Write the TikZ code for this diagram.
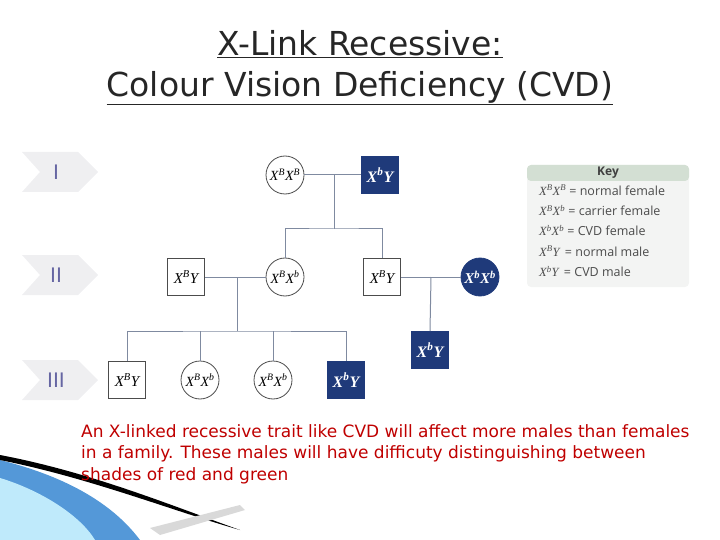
\documentclass[tikz,border=0pt]{standalone}
\usepackage{fontspec}
\setmainfont{DejaVu Sans}
\newfontfamily\titlefont{DejaVu Sans}
\newfontfamily\keyfont{Open Sans}
\newfontfamily\serf{Liberation Serif}
\definecolor{navy}{HTML}{1F3A7A}
\definecolor{lncol}{HTML}{7F8AA0}
\begin{document}
\begin{tikzpicture}[x=1pt,y=-1pt,
  sq/.style={draw=black!70,line width=0.8pt,minimum size=37pt,inner sep=0,fill=white,font=\serf\fontsize{15}{15}\selectfont\itshape},
  sqf/.style={sq,fill=navy,draw=navy,text=white,font=\serf\fontsize{16}{16}\selectfont\bfseries\itshape},
  ci/.style={circle,draw=black!70,line width=0.8pt,minimum size=38pt,inner sep=0,fill=white,font=\serf\fontsize{14}{14}\selectfont\itshape},
  cif/.style={ci,fill=navy,draw=navy,text=white,font=\serf\fontsize{15}{15}\selectfont\bfseries\itshape},
  ln/.style={draw=lncol,line width=1pt},
  chev/.style={fill=blue!6!gray!12,draw=none},
  gen/.style={font=\fontsize{20}{20}\selectfont,text=blue!40!black!60}]
\useasboundingbox (0,0) rectangle (720,540);
% swoosh
\fill[cyan!60!blue!70] (0,460) .. controls (60,475) and (110,500) .. (140,540) -- (0,540) -- cycle;
\fill[cyan!25] (0,478) .. controls (40,490) and (80,515) .. (95,540) -- (0,540) -- cycle;
\fill[black] (0,455) .. controls (90,472) and (170,505) .. (240,530) .. controls (170,510) and (90,478) .. (0,460) -- cycle;
\fill[gray!30] (150,528) -- (240,505) -- (245,510) -- (160,535) -- cycle;
% title
\node[font=\titlefont\fontsize{33}{33}\selectfont,text=black!85] (t1) at (360,44) {\underline{X-Link Recessive:}};
\node[font=\titlefont\fontsize{33}{33}\selectfont,text=black!85] (t2) at (360,88) {\underline{Colour Vision Deficiency (CVD)}};
% chevrons
\foreach \yy/\lab/\nm in {172/I/g1,275/II/g2,380/III/g3}{
  \fill[chev] (22,\yy-20) -- (78,\yy-20) -- (98,\yy) -- (78,\yy+20) -- (22,\yy+20) -- (40,\yy) -- cycle;
  \node[gen] (\nm) at (56,\yy) {\lab};
}
% nodes
\node[ci] (a) at (285,175) {X\textsuperscript{B}X\textsuperscript{B}};
\node[sqf] (b) at (380,175) {X\textsuperscript{b}Y};
\node[sq] (c) at (186,277) {X\textsuperscript{B}Y};
\node[ci] (d) at (285,277) {X\textsuperscript{B}X\textsuperscript{b}};
\node[sq] (e) at (382,277) {X\textsuperscript{B}Y};
\node[cif] (f) at (480,277) {X\textsuperscript{b}X\textsuperscript{b}};
\node[sq] (g) at (127,380) {X\textsuperscript{B}Y};
\node[ci] (h) at (200,380) {X\textsuperscript{B}X\textsuperscript{b}};
\node[ci] (i) at (273,380) {X\textsuperscript{B}X\textsuperscript{b}};
\node[sqf] (j) at (346,380) {X\textsuperscript{b}Y};
\node[sqf] (k) at (430,350) {X\textsuperscript{b}Y};
% lines
\coordinate (m1) at (334,175); \coordinate (s1) at (334,229);
\draw[ln] (a) -- (b); \draw[ln] (m1) -- (s1);
\draw[ln] (d.north) |- (s1) -| (e.north);
\coordinate (m2) at (237,277); \coordinate (s2) at (237,331);
\draw[ln] (c) -- (d); \draw[ln] (m2) -- (s2);
\draw[ln] (g.north) |- (s2) -| (j.north);
\draw[ln] (h.north) -- (h.north|-s2); \draw[ln] (i.north) -- (i.north|-s2);
\coordinate (m3) at (431,277);
\draw[ln] (e) -- (f); \draw[ln] (m3) -- (k.north);
% key
\fill[green!5!gray!9,rounded corners=4pt] (527,165) rectangle (689,287);
\fill[green!15!gray!30,rounded corners=4pt] (527,165) rectangle (689,181);
\node[font=\keyfont\bfseries\fontsize{12}{12}\selectfont,text=black!75] (kh) at (608,173) {Key};
\node[font=\keyfont\fontsize{12.5}{20.3}\selectfont,text=black!70,align=left,anchor=north west,inner sep=0] (kb) at (539,185)
 {{\serf\itshape X\textsuperscript{B}X\textsuperscript{B}} = normal female\\
  {\serf\itshape X\textsuperscript{B}X\textsuperscript{b}} = carrier female\\
  {\serf\itshape X\textsuperscript{b}X\textsuperscript{b}} = CVD female\\
  {\serf\itshape X\textsuperscript{B}Y}\ \,= normal male\\
  {\serf\itshape X\textsuperscript{b}Y}\ \,= CVD male};
% caption
\node[font=\fontsize{17}{21.5}\selectfont,text=red!75!black,align=left,anchor=north west,inner sep=0] (cap) at (81,424)
 {An X-linked recessive trait like CVD will affect more males than females\\in a family. These males will have difficuty distinguishing between\\shades of red and green};
\end{tikzpicture}
\end{document}
